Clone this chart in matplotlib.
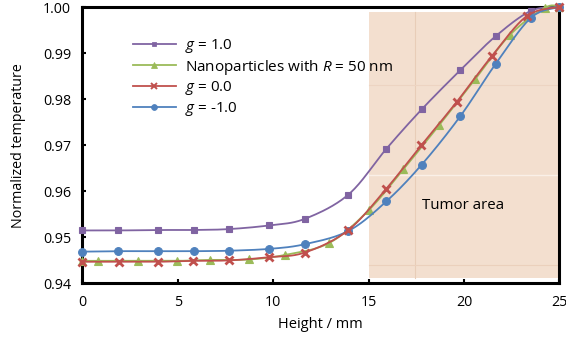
import numpy as np
import matplotlib
matplotlib.use("Agg")
import matplotlib.pyplot as plt
from matplotlib.patches import Rectangle

plt.rcParams['font.family'] = ['Open Sans', 'DejaVu Sans']
plt.rcParams['mathtext.fontset'] = 'custom'
plt.rcParams['mathtext.rm'] = 'Open Sans'
plt.rcParams['mathtext.it'] = 'Open Sans:italic'

# data (height in mm, normalized temperature)
x_g = [0, 1.85, 3.95, 5.85, 7.7, 9.8, 11.65, 13.95, 15.93, 17.79, 19.81, 21.67, 23.52, 25]
y_g1 = [0.9515, 0.9515, 0.9516, 0.9516, 0.9518, 0.9526, 0.9540, 0.9593, 0.9692,
        0.9778, 0.9863, 0.9937, 0.9992, 1.0000]
y_gm1 = [0.9469, 0.9470, 0.9470, 0.9470, 0.9471, 0.9475, 0.9485, 0.9514, 0.9578,
         0.9658, 0.9763, 0.9877, 0.9977, 1.0000]

x_g0 = [0, 1.91, 3.95, 5.82, 7.7, 9.8, 11.66, 13.92, 15.92, 17.77, 19.62, 21.47, 23.31, 25]
y_g0 = [0.9447, 0.9447, 0.9447, 0.9449, 0.9450, 0.9457, 0.9467, 0.9515, 0.9605,
        0.9700, 0.9794, 0.9894, 0.9981, 1.0000]

x_np = [0, 0.84, 2.90, 4.98, 6.69, 8.75, 10.64, 12.95, 15.01, 16.83, 18.71, 20.58, 22.42, 24.27, 25]
y_np = [0.9449, 0.9449, 0.9449, 0.9449, 0.9451, 0.9452, 0.9462, 0.9488, 0.9559,
        0.9648, 0.9744, 0.9843, 0.9940, 0.9999, 1.0000]

series = [
    ("$g$ = 1.0", x_g, y_g1, '#8064A2', 's', 4.8, 3),
    ("Nanoparticles with $R$ = 50 nm", x_np, y_np, '#9BBB59', '^', 6.0, 4),
    ("$g$ = 0.0", x_g0, y_g0, '#C0504D', 'x', 6.2, 6),
    ("$g$ = -1.0", x_g, y_gm1, '#4F81BD', 'o', 5.6, 5),
]


def smooth(x, y, n=20):
    # catmull-rom style smoothing like excel's smoothed lines
    p = np.column_stack([x, y]).astype(float)
    p = np.vstack([p[0], p, p[-1]])
    out = []
    t = np.linspace(0, 1, n)[:, None]
    for i in range(1, len(p) - 2):
        p0, p1, p2, p3 = p[i - 1], p[i], p[i + 1], p[i + 2]
        c1 = p1 + (p2 - p0) / 6
        c2 = p2 - (p3 - p1) / 6
        seg = ((1 - t) ** 3) * p1 + 3 * ((1 - t) ** 2) * t * c1 + 3 * (1 - t) * t ** 2 * c2 + t ** 3 * p2
        out.append(seg)
    out = np.vstack(out)
    return out[:, 0], out[:, 1]


fig = plt.figure(figsize=(5.66, 3.37), dpi=100)
ax = fig.add_axes([0.1454, 0.159, 0.8428, 0.820])

# tumor area shading
ax.add_patch(Rectangle((15, 0.9411), 10, 0.0578, facecolor='#F3DFCF', edgecolor='none', zorder=0))
ax.plot([17.45, 17.45], [0.9411, 0.9989], color='#E8CDB8', lw=0.8, zorder=0.5)
ax.plot([15, 25], [0.9635, 0.9635], color='#FAF0E8', lw=1.0, zorder=0.5)
ax.plot([15, 25], [0.9440, 0.9440], color='#EBD0BC', lw=0.8, zorder=0.5)
ax.plot([15, 25], [0.9830, 0.9830], color='#EDD4C2', lw=0.8, zorder=0.5)
ax.text(19.95, 0.957, "Tumor area", fontsize=10.8, ha='center', va='center')

for label, xs, ys, col, mk, ms, z in series:
    sx, sy = smooth(xs, ys)
    ax.plot(sx, sy, color=col, lw=1.3, zorder=z, clip_on=False)
    mew = 2.0 if mk == 'x' else 0.8
    ax.plot(xs, ys, linestyle='none', marker=mk, ms=ms, color=col, mec=col, mew=mew,
            zorder=z, clip_on=False)
    # legend handle
    ax.plot([], [], color=col, lw=1.3, marker=mk, ms=ms * 0.75, mew=mew * 0.7, label=label)

ax.set_xlim(0, 25)
ax.set_ylim(0.94, 1.00)
ax.set_xticks([0, 5, 10, 15, 20, 25])
ax.set_yticks([0.94, 0.95, 0.96, 0.97, 0.98, 0.99, 1.00])
ax.yaxis.set_major_formatter(matplotlib.ticker.FormatStrFormatter('%.2f'))
ax.tick_params(direction='in', length=3, width=1.5, labelsize=10.3, pad=8)

for s in ax.spines.values():
    s.set_linewidth(2.2)

ax.set_xlabel("Height / mm", fontsize=10.5)
ax.set_ylabel("Normalized temperature", fontsize=10.3)
ax.xaxis.set_label_coords(0.5, -0.12)
ax.yaxis.set_label_coords(-0.118, 0.5)

ax.legend(loc='upper left', bbox_to_anchor=(0.106, 0.892), frameon=False, fontsize=11,
          borderpad=0, borderaxespad=0, handlelength=2.8, handletextpad=0.6, labelspacing=0.18)

fig.savefig("out.png", dpi=100)
